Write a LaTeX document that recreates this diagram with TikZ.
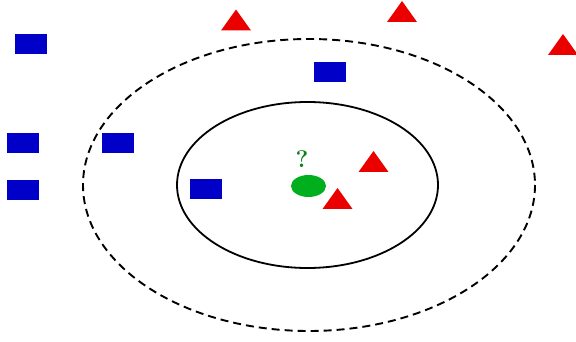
\documentclass[tikz,border=0pt]{standalone}
\usetikzlibrary{shapes.geometric}
\definecolor{sqblue}{RGB}{0,0,200}
\definecolor{trired}{RGB}{235,0,0}
\definecolor{ptgreen}{RGB}{0,175,30}
\definecolor{qgreen}{RGB}{10,130,30}
\tikzset{
  sq/.pic={\fill[sqblue] (-16,-10) rectangle (16,10);},
  tri/.pic={\fill[trired] (-15,10) -- (15,10) -- (0,-11) -- cycle;},
}
\begin{document}
\begin{tikzpicture}[x=1pt,y=-1pt]
\useasboundingbox (0,0) rectangle (576,342);
% circles
\draw[line width=1.9pt, dash pattern=on 8pt off 5pt] (309,185) ellipse [x radius=226, y radius=146];
\draw[line width=1.8pt] (307.5,185) ellipse [x radius=130.5, y radius=83];
% blue squares
\pic at (31,44) {sq};
\pic at (330,72) {sq};
\pic at (23,143) {sq};
\pic at (118,143) {sq};
\pic at (23,190) {sq};
\pic at (206,189.5) {sq};
% red triangles
\pic at (236,20.5) {tri};
\pic at (402,12) {tri};
\pic at (563,45) {tri};
\pic at (373.5,162) {tri};
\pic at (337.5,199) {tri};
% query point
\fill[ptgreen] (308.5,186) ellipse [x radius=17.5, y radius=11];
\node[text=qgreen, font=\fontsize{24}{24}\selectfont\bfseries, inner sep=0pt] (q) at (302,159) {?};
\end{tikzpicture}
\end{document}
